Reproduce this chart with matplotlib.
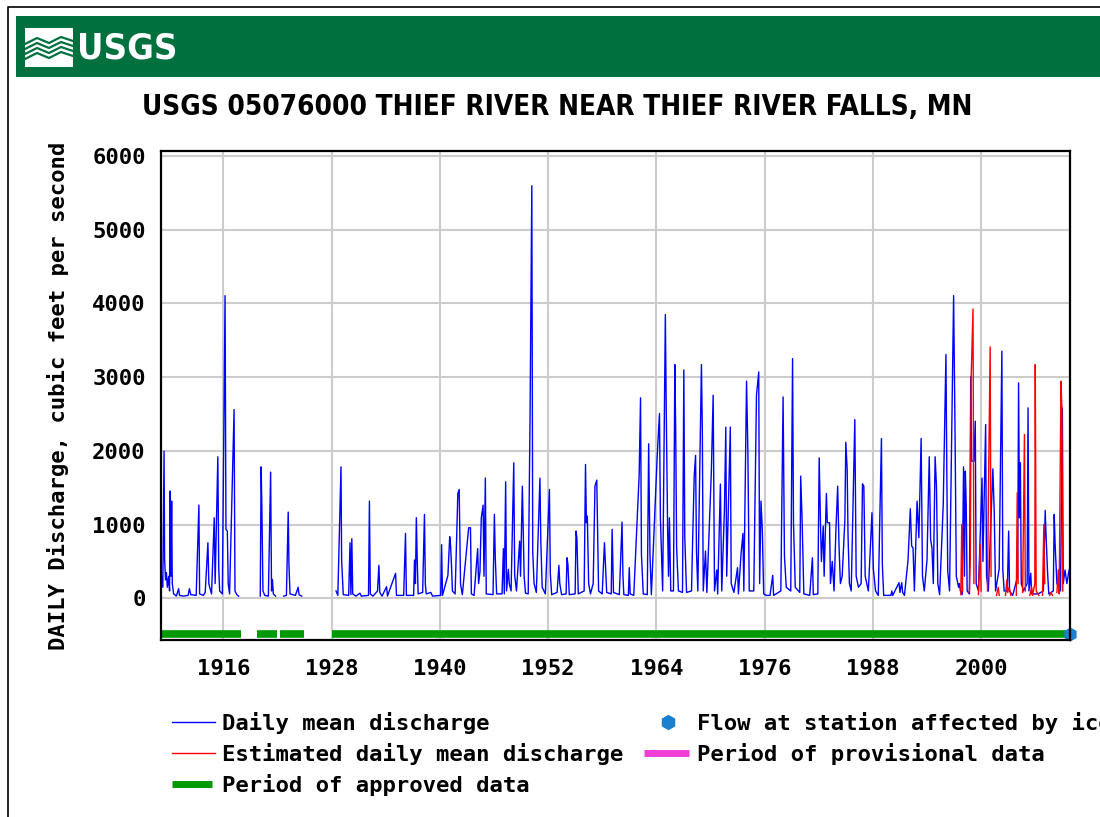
import numpy as np
import matplotlib
matplotlib.use("Agg")
import matplotlib.pyplot as plt
from matplotlib.patches import Rectangle
from matplotlib import font_manager as fm

nan = np.nan

# daily mean discharge (approved): decimal year, cfs
blue_yr = [1909.15, 1909.3, 1909.44, 1909.5, 1909.6, 1909.7, 1909.8, 1909.95, 1910.05, 1910.1,
           1910.2, 1910.28, 1910.35, 1910.5, 1910.8, 1911.05, 1911.15, 1911.6, 1912.1, 1912.25,
           1912.4, 1913.0, 1913.3, 1913.38, 1913.8, 1914.0, 1914.3, 1914.4, 1914.5, 1914.7,
           1915.0, 1915.1, 1915.4, 1915.5, 1915.6, 1915.9, 1916.2, 1916.3, 1916.45, 1916.55,
           1916.7, 1917.2, 1917.3, 1917.5, 1917.7, nan,
           1920.1, 1920.2, 1920.28, 1920.4, 1920.6, 1921.0, 1921.25, 1921.35, 1921.45, 1921.55,
           1921.8, nan,
           1922.7, 1923.0, 1923.2, 1923.28, 1923.4, 1924.0, 1924.3, 1924.4, 1924.7, nan,
           1928.5, 1928.7, 1929.05, 1929.12, 1929.3, 1929.9, 1930.05, 1930.15, 1930.25, 1930.35,
           1930.7, 1931.15, 1931.3, 1932.1, 1932.2, 1932.3, 1932.6, 1933.1, 1933.25, 1933.35,
           1933.6, 1934.1, 1934.2, 1935.1, 1935.2, 1936.0, 1936.2, 1936.3, 1937.1, 1937.2,
           1937.3, 1937.4, 1937.5, 1937.6, 1938.1, 1938.2, 1938.3, 1938.4, 1938.5, 1939.0,
           1939.2, 1940.1, 1940.2, 1940.3, 1940.9, 1941.1, 1941.2, 1941.3, 1941.4, 1941.7,
           1942.0, 1942.15, 1942.3, 1942.5, 1943.2, 1943.4, 1943.5, 1943.8, 1944.2, 1944.3,
           1944.45, 1944.6, 1944.8, 1944.9, 1945.05, 1945.15, 1945.9, 1946.05, 1946.15, 1946.3,
           1946.9, 1947.05, 1947.15, 1947.3, 1947.4, 1947.6, 1947.7, 1947.9, 1948.2, 1948.3,
           1948.5, 1948.85, 1948.95, 1949.15, 1949.25, 1949.35, 1949.5, 1949.8, 1950.0, 1950.2,
           1950.3, 1950.45, 1950.7, 1951.1, 1951.2, 1951.35, 1951.7, 1952.15, 1952.25, 1952.4,
           1953.0, 1953.2, 1953.3, 1953.5, 1954.0, 1954.1, 1954.2, 1954.35, 1955.0, 1955.1,
           1955.2, 1955.35, 1956.0, 1956.15, 1956.25, 1956.35, 1956.5, 1956.7, 1957.0, 1957.2,
           1957.4, 1957.5, 1957.6, 1958.0, 1958.25, 1958.35, 1958.5, 1959.0, 1959.1, 1959.25,
           1959.9, 1960.2, 1960.3, 1960.4, 1960.9, 1961.0, 1961.1, 1961.5, 1962.1, 1962.25,
           1962.35, 1962.55, 1963.0, 1963.15, 1963.3, 1963.45, 1964.1, 1964.35, 1964.45, 1964.7,
           1965.0, 1965.1, 1965.25, 1965.35, 1965.45, 1965.6, 1965.9, 1966.05, 1966.15, 1966.25,
           1966.45, 1966.9, 1967.05, 1967.15, 1967.35, 1967.9, 1968.0, 1968.2, 1968.35, 1968.45,
           1968.6, 1969.0, 1969.1, 1969.2, 1969.45, 1969.6, 1970.1, 1970.3, 1970.45, 1970.7,
           1970.8, 1971.1, 1971.25, 1971.55, 1971.7, 1971.8, 1972.2, 1972.3, 1972.6, 1973.0,
           1973.1, 1973.4, 1973.6, 1973.7, 1974.0, 1974.15, 1974.3, 1974.8, 1975.1, 1975.35,
           1975.45, 1975.6, 1975.75, 1975.9, 1976.2, 1976.6, 1976.9, 1977.0, 1977.8, 1978.05,
           1978.2, 1978.4, 1978.9, 1979.1, 1979.2, 1979.4, 1979.9, 1980.0, 1980.15, 1980.35,
           1981.0, 1981.3, 1981.4, 1981.9, 1982.05, 1982.2, 1982.3, 1982.5, 1982.6, 1982.85,
           1982.95, 1983.2, 1983.3, 1983.5, 1983.7, 1983.9, 1984.1, 1984.25, 1984.4, 1984.6,
           1984.9, 1985.0, 1985.15, 1985.25, 1985.4, 1985.6, 1986.0, 1986.15, 1986.4, 1986.7,
           1986.85, 1987.0, 1987.15, 1987.5, 1987.9, 1988.05, 1988.3, 1988.6, 1988.95, 1989.05,
           1989.2, 1990.0, 1990.1, 1990.2, 1990.9, 1991.0, 1991.2, 1991.3, 1991.5, 1991.9,
           1992.15, 1992.3, 1992.45, 1992.6, 1992.9, 1993.1, 1993.35, 1993.5, 1993.7, 1994.0,
           1994.25, 1994.4, 1994.55, 1994.7, 1994.9, 1995.05, 1995.2, 1995.4, 1995.8, 1996.1,
           1996.2, 1996.3, 1996.5, 1996.95, 1997.1, 1997.25, 1997.5, 1997.6, 1997.7, 1997.9,
           1998.05, 1998.15, 1998.25, 1998.35, 1998.45, 1998.7, 1998.85, 1998.95, 1999.2, 1999.35,
           1999.45, 1999.7, 2000.1, 2000.2, 2000.5, 2000.6, 2000.8, 2001.15, 2001.3, 2001.45,
           2001.6, 2002.0, 2002.3, 2002.4, 2002.55, 2002.9, 2003.05, 2003.15, 2003.5, 2004.05,
           2004.15, 2004.25, 2004.35, 2004.45, 2004.7, 2005.1, 2005.2, 2005.3, 2005.5, 2005.6,
           2006.3, 2006.9, 2007.1, 2007.2, 2007.35, 2007.5, 2008.0, 2008.1, 2008.2, 2008.4,
           2008.8, 2009.0, 2009.1, 2009.3, 2009.5, 2009.75]
blue_cfs = [300, 150, 1995, 530, 250, 350, 150, 300, 100, 1455,
            300, 1318, 200, 60, 30, 130, 40, 30, 40, 130,
            50, 40, 1264, 60, 40, 80, 754, 200, 150, 60,
            1093, 200, 1919, 415, 100, 60, 4104, 935, 912, 200,
            60, 2560, 100, 50, 30, nan,
            30, 1783, 1241, 100, 40, 30, 1711, 100, 257, 60,
            30, nan,
            30, 40, 1169, 460, 60, 40, 150, 50, 30, nan,
            100, 40, 1783, 519, 50, 40, 754, 50, 808, 60,
            30, 70, 30, 40, 1318, 60, 30, 100, 447, 80,
            30, 158, 30, 339, 40, 40, 880, 40, 40, 519,
            200, 1093, 519, 60, 80, 596, 1138, 190, 60, 80,
            30, 40, 727, 40, 311, 835, 709, 438, 100, 60,
            1422, 1476, 190, 50, 957, 957, 60, 40, 673, 200,
            357, 1093, 1264, 300, 1630, 60, 50, 1138, 550, 60,
            60, 673, 60, 1580, 100, 393, 200, 100, 1837, 311,
            100, 776, 300, 1521, 912, 300, 70, 60, 2402, 5594,
            641, 200, 80, 1630, 754, 150, 60, 1476, 339, 50,
            80, 447, 200, 50, 60, 550, 460, 50, 60, 912,
            808, 60, 100, 1815, 1025, 1115, 200, 60, 200, 1521,
            1603, 822, 100, 60, 754, 483, 80, 60, 935, 80,
            50, 1034, 300, 50, 40, 415, 60, 40, 1680, 2718,
            596, 60, 50, 2095, 573, 50, 1937, 2506, 1093, 100,
            3847, 2551, 957, 300, 1093, 100, 100, 3169, 2244, 686,
            100, 80, 3097, 844, 80, 100, 664, 1657, 1937, 641,
            100, 3169, 2266, 100, 641, 80, 1725, 2754, 100, 384,
            60, 1549, 100, 1205, 2321, 300, 2321, 200, 80, 415,
            60, 619, 880, 100, 2944, 1964, 100, 100, 2754, 3070,
            200, 1318, 912, 60, 40, 40, 311, 40, 100, 2731,
            573, 150, 100, 3250, 1034, 150, 80, 1657, 1093, 60,
            40, 550, 50, 60, 1905, 980, 500, 980, 300, 1422,
            1025, 1025, 200, 500, 100, 912, 1521, 709, 200, 300,
            1070, 2117, 1756, 844, 200, 100, 2424, 300, 150, 200,
            1553, 1521, 300, 100, 1160, 400, 100, 40, 2167, 460,
            40, 40, 100, 40, 212, 80, 212, 80, 40, 519,
            1214, 709, 686, 100, 1318, 822, 2167, 300, 100, 519,
            1919, 799, 686, 200, 1919, 1521, 200, 50, 1273, 3305,
            1657, 370, 100, 4104, 2348, 300, 150, 200, 100, 50,
            1783, 300, 1725, 1250, 100, 60, 3011, 1860, 1860, 2402,
            200, 100, 1630, 500, 2357, 300, 100, 1273, 1756, 1180,
            100, 400, 3350, 400, 100, 100, 912, 100, 40, 300,
            2921, 1093, 1837, 200, 100, 200, 2582, 100, 340, 60,
            60, 100, 1192, 846, 384, 60, 100, 1138, 731, 200,
            100, 2582, 200, 384, 200, 384]

# estimated daily mean discharge
est_yr = [1997.75, 1997.85, 1997.95, nan,
          1998.7, 1998.8, 1998.9, 1999.1, 1999.2, nan,
          1999.7, 1999.9, 2000.0, nan,
          2000.7, 2000.8, 2001.0, 2001.1, nan,
          2001.7, 2001.9, 2002.0, nan,
          2002.7, 2002.85, 2002.95, 2003.1, 2003.3, nan,
          2003.9, 2004.0, 2004.1, nan,
          2004.6, 2004.8, 2004.9, nan,
          2005.4, 2005.6, 2005.7, 2005.95, 2006.0, 2006.1, 2006.4, nan,
          2006.8, 2006.95, 2007.05, nan,
          2007.6, 2007.75, 2007.9, nan,
          2008.4, 2008.55, 2008.65, 2008.85, 2008.95, 2009.05]
est_cfs = [50, 1002, 100, nan,
           80, 550, 3011, 3923, 200, nan,
           50, 731, 100, nan,
           100, 1318, 3409, 300, nan,
           40, 150, 40, nan,
           40, 250, 80, 150, 40, nan,
           40, 1431, 200, nan,
           80, 2221, 100, nan,
           40, 150, 40, 200, 3169, 100, 40, nan,
           40, 1002, 200, nan,
           40, 80, 40, nan,
           80, 384, 60, 2944, 2582, 100]

approved_start = [1909.2, 1919.7, 1922.3, 1928.1]
approved_end = [1918.0, 1922.0, 1925.0, 2009.6]
provisional = [2009.6, 2009.85]
ice_yr = [2009.85]

xticks = [1916, 1928, 1940, 1952, 1964, 1976, 1988, 2000]
yticks = [0, 1000, 2000, 3000, 4000, 5000, 6000]

mono = {'family': 'DejaVu Sans Mono', 'weight': 'bold', 'size': 16}


def pick_narrow():
    # look for a condensed / narrow bold face, else plain bold sans
    best = None
    for f in fm.fontManager.ttflist:
        n = f.name.lower()
        narrowish = ('condensed' in n or 'narrow' in n or
                     str(f.stretch) in ('condensed', 'semi-condensed', 'extra-condensed'))
        w = f.weight
        boldish = (w in ('bold', 'heavy', 'black', 'demibold', 'semibold')) or \
                  (isinstance(w, int) and w >= 600)
        if narrowish and boldish:
            best = f.fname
            break
    if best:
        return fm.FontProperties(fname=best)
    return fm.FontProperties(family='Liberation Sans', weight='bold')


narrow = pick_narrow()

W, H = 1100, 817
fig = plt.figure(figsize=(W / 100, H / 100), dpi=100)

# page decorations in pixel coordinates
bg = fig.add_axes([0, 0, 1, 1])
bg.set_xlim(0, W)
bg.set_ylim(H, 0)
bg.axis('off')
bg.plot([8, 8, W + 5], [H + 5, 7, 7], color='black', lw=1.2)
bg.add_patch(Rectangle((16, 16), W, 61, color='#00703f', lw=0))
# logo emblem
bg.add_patch(Rectangle((25, 28), 48, 39, color='white', lw=0))
for k in range(4):
    xs = np.array([25, 37, 49, 61, 73])
    ys = 40 + k * 5 + np.array([4, -2, 3, -3, 1])
    bg.plot(xs, ys, color='#00703f', lw=1.6)
logo = bg.text(77, 48, 'USGS', color='white', fontproperties=narrow, fontsize=30,
               ha='left', va='center')
title = bg.text(557, 107, 'USGS 05076000 THIEF RIVER NEAR THIEF RIVER FALLS, MN',
                color='black', fontproperties=narrow, fontsize=25, ha='center', va='center')

ax = fig.add_axes([161 / W, 1 - 640 / H, (1070 - 161) / W, (640 - 151) / H])
ax.set_xlim(1909.1, 2009.85)
ax.set_ylim(-565, 6065)
ax.grid(True, color='#cccccc', lw=1.5)
ax.set_axisbelow(True)
ax.set_xticks(xticks)
ax.set_yticks(yticks)
ax.tick_params(axis='y', length=0, pad=11)
ax.tick_params(axis='x', length=0, pad=14)
for lab in ax.get_xticklabels() + ax.get_yticklabels():
    lab.set_fontproperties(mono)
for sp in ax.spines.values():
    sp.set_linewidth(1.6)

ax.plot(blue_yr, blue_cfs, color='#0000ff', lw=1.0)
ax.plot(est_yr, est_cfs, color='#ff0000', lw=1.0)
for s, e in zip(approved_start, approved_end):
    ax.plot([s, e], [-480, -480], color='#009900', lw=5.5, solid_capstyle='butt')
ax.plot(provisional, [-480, -480], color='#f040d8', lw=5.5, solid_capstyle='butt', clip_on=False)
ax.plot(ice_yr, [-480], marker='h', color='#1a7fd0', ms=9, ls='none', clip_on=False)
ax.set_ylabel('DAILY Discharge, cubic feet per second', fontdict=mono, labelpad=17)

# legend
bg.plot([172, 215], [722, 722], color='#0000ff', lw=1.0)
bg.text(222, 723, 'Daily mean discharge', fontdict=mono, va='center')
bg.plot([172, 215], [753, 753], color='#ff0000', lw=1.0)
bg.text(222, 754, 'Estimated daily mean discharge', fontdict=mono, va='center')
bg.plot([172, 212], [784, 784], color='#009900', lw=5, solid_capstyle='butt')
bg.text(222, 785, 'Period of approved data', fontdict=mono, va='center')
bg.plot([668], [722], marker='h', color='#1a7fd0', ms=10)
bg.text(697, 723, 'Flow at station affected by ice', fontdict=mono, va='center')
bg.plot([644, 689], [753, 753], color='#f040d8', lw=5, solid_capstyle='butt')
bg.text(697, 754, 'Period of provisional data', fontdict=mono, va='center')

# fit the header texts to the widths they take in the reference
fig.canvas.draw()
r = fig.canvas.get_renderer()
for t, target in ((title, 833), (logo, 100)):
    wpx = t.get_window_extent(r).width
    t.set_fontsize(t.get_fontsize() * target / wpx)

fig.savefig('out.png', dpi=100)
